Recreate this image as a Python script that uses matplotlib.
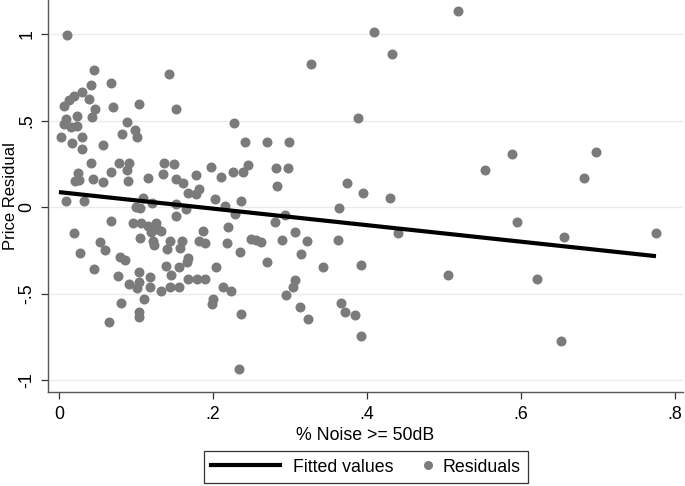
import numpy as np
import matplotlib
matplotlib.use("Agg")
import matplotlib.pyplot as plt
from matplotlib.lines import Line2D
from matplotlib.legend_handler import HandlerLine2D

# share of time with noise >= 50dB, and the price residual
noise = [0.010, 0.045, 0.068, 0.042, 0.030, 0.019, 0.013, 0.006, 0.039, 0.070,
         0.104, 0.047, 0.043, 0.023, 0.143, 0.152, 0.227, 0.009, 0.006, 0.016,
         0.023, 0.030, 0.003, 0.088, 0.082, 0.099, 0.101, 0.017, 0.030, 0.057,
         0.042, 0.078, 0.091, 0.088, 0.090, 0.068, 0.025, 0.021, 0.026, 0.044,
         0.057, 0.136, 0.149, 0.135, 0.116, 0.152, 0.161, 0.178, 0.197, 0.210,
         0.226, 0.239, 0.245, 0.282, 0.297, 0.283, 0.168, 0.182, 0.178, 0.242,
         0.270, 0.299, 0.327, 0.388, 0.409, 0.432, 0.518, 0.374, 0.395, 0.430,
         0.009, 0.032, 0.109, 0.121, 0.100, 0.105, 0.152, 0.165, 0.152, 0.203,
         0.216, 0.236, 0.229, 0.364, 0.294, 0.281, 0.440, 0.068, 0.096, 0.106,
         0.116, 0.126, 0.127, 0.132, 0.119, 0.105, 0.187, 0.219, 0.019, 0.053,
         0.122, 0.123, 0.144, 0.140, 0.160, 0.157, 0.182, 0.190, 0.218, 0.306,
         0.290, 0.322, 0.249, 0.256, 0.262, 0.362, 0.235, 0.314, 0.027, 0.060,
         0.079, 0.086, 0.168, 0.045, 0.077, 0.139, 0.156, 0.166, 0.270, 0.343,
         0.392, 0.204, 0.104, 0.118, 0.145, 0.190, 0.306, 0.304, 0.091, 0.104,
         0.101, 0.118, 0.132, 0.144, 0.156, 0.168, 0.179, 0.213, 0.223, 0.295,
         0.200, 0.199, 0.366, 0.371, 0.384, 0.236, 0.313, 0.323, 0.392, 0.234,
         0.081, 0.110, 0.104, 0.104, 0.065, 0.553, 0.588, 0.697, 0.682, 0.594,
         0.655, 0.775, 0.505, 0.621, 0.652]
resid = [0.994, 0.792, 0.717, 0.705, 0.665, 0.642, 0.618, 0.584, 0.624, 0.578,
         0.595, 0.566, 0.520, 0.526, 0.769, 0.566, 0.486, 0.509, 0.480, 0.462,
         0.468, 0.405, 0.405, 0.491, 0.422, 0.445, 0.405, 0.370, 0.335, 0.358,
         0.254, 0.254, 0.254, 0.214, 0.150, 0.202, 0.197, 0.150, 0.156, 0.162,
         0.145, 0.254, 0.249, 0.191, 0.168, 0.162, 0.139, 0.185, 0.231, 0.173,
         0.202, 0.202, 0.243, 0.225, 0.225, 0.121, 0.081, 0.104, 0.075, 0.376,
         0.376, 0.376, 0.827, 0.514, 1.012, 0.884, 1.133, 0.139, 0.081, 0.052,
         0.035, 0.035, 0.052, 0.023, 0.000, -0.006, 0.017, -0.012, -0.052, 0.046,
         0.006, 0.035, -0.040, -0.006, -0.046, -0.087, -0.150, -0.081, -0.092, -0.092,
         -0.110, -0.092, -0.127, -0.139, -0.145, -0.179, -0.139, -0.116, -0.150, -0.202,
         -0.197, -0.220, -0.197, -0.243, -0.197, -0.237, -0.197, -0.208, -0.208, -0.145,
         -0.191, -0.197, -0.185, -0.191, -0.202, -0.191, -0.260, -0.272, -0.266, -0.249,
         -0.289, -0.306, -0.295, -0.358, -0.399, -0.341, -0.347, -0.318, -0.318, -0.347,
         -0.335, -0.347, -0.376, -0.405, -0.393, -0.416, -0.422, -0.462, -0.445, -0.434,
         -0.468, -0.462, -0.486, -0.462, -0.462, -0.416, -0.416, -0.462, -0.486, -0.509,
         -0.532, -0.561, -0.555, -0.607, -0.624, -0.618, -0.578, -0.647, -0.746, -0.936,
         -0.555, -0.532, -0.607, -0.636, -0.665, 0.214, 0.306, 0.318, 0.168, -0.087,
         -0.173, -0.150, -0.393, -0.416, -0.775]

# fitted line end points
fit_x = [0.0, 0.775]
fit_y = [0.087, -0.283]

xticks = [0, 0.2, 0.4, 0.6, 0.8]
xtick_labels = ["0", ".2", ".4", ".6", ".8"]
yticks = [-1, -0.5, 0, 0.5, 1]
ytick_labels = ["-1", "-.5", "0", ".5", "1"]

plt.rcParams["font.family"] = ["Liberation Sans", "DejaVu Sans"]

dot_color = "#7b7b7b"
fs = 12.8

fig = plt.figure(figsize=(6.85, 4.86), dpi=100)
ax = fig.add_axes([0.070, 0.193, 0.927, 0.807])

ax.scatter(noise, resid, s=52, color=dot_color, linewidths=0, zorder=3)
ax.plot(fit_x, fit_y, color="black", linewidth=3.0, solid_capstyle="butt", zorder=4)

ax.set_xlim(-0.0143, 0.810)
ax.set_ylim(-1.069, 1.197)

ax.set_xticks(xticks)
ax.set_xticklabels(xtick_labels)
ax.set_yticks(yticks)
ax.set_yticklabels(ytick_labels, rotation=90, va="center")

ax.grid(axis="y", color="#ebebeb", linewidth=1.0, zorder=0)
ax.set_axisbelow(True)

for side in ["top", "right"]:
    ax.spines[side].set_visible(False)
for side in ["left", "bottom"]:
    ax.spines[side].set_color("#555555")
    ax.spines[side].set_linewidth(1.0)

ax.tick_params(axis="both", direction="out", length=5, width=0.9, color="#333333",
               labelsize=fs, labelcolor="black")
ax.tick_params(axis="x", pad=5)
ax.tick_params(axis="y", pad=4)

ax.set_xlabel("% Noise >= 50dB", fontsize=fs, labelpad=3)
ax.set_ylabel("Price Residual", fontsize=12)
ax.yaxis.set_label_coords(-0.047, 0.5)


# single marker near the right end of its handle box, like the original
class RightMarkerHandler(HandlerLine2D):
    def get_xdata(self, legend, xdescent, ydescent, width, height, fontsize):
        p = -xdescent + width - 0.15 * fontsize
        return [p, p], [p]


h_line = Line2D([], [], color="black", linewidth=3.0)
h_dot = Line2D([], [], linestyle="none", marker="o", markersize=6.5,
               markerfacecolor=dot_color, markeredgewidth=0)

leg = fig.legend([h_line, h_dot], ["Fitted values", "Residuals"],
                 loc="center", bbox_to_anchor=(0.534, 0.039), ncol=2,
                 fontsize=fs, frameon=True, fancybox=False,
                 handlelength=3.9, handletextpad=0.7, columnspacing=-1.8,
                 borderpad=0.4, borderaxespad=0, numpoints=1,
                 handler_map={h_dot: RightMarkerHandler()})
leg.get_frame().set_edgecolor("black")
leg.get_frame().set_linewidth(0.9)

fig.savefig("out.png", dpi=100)
